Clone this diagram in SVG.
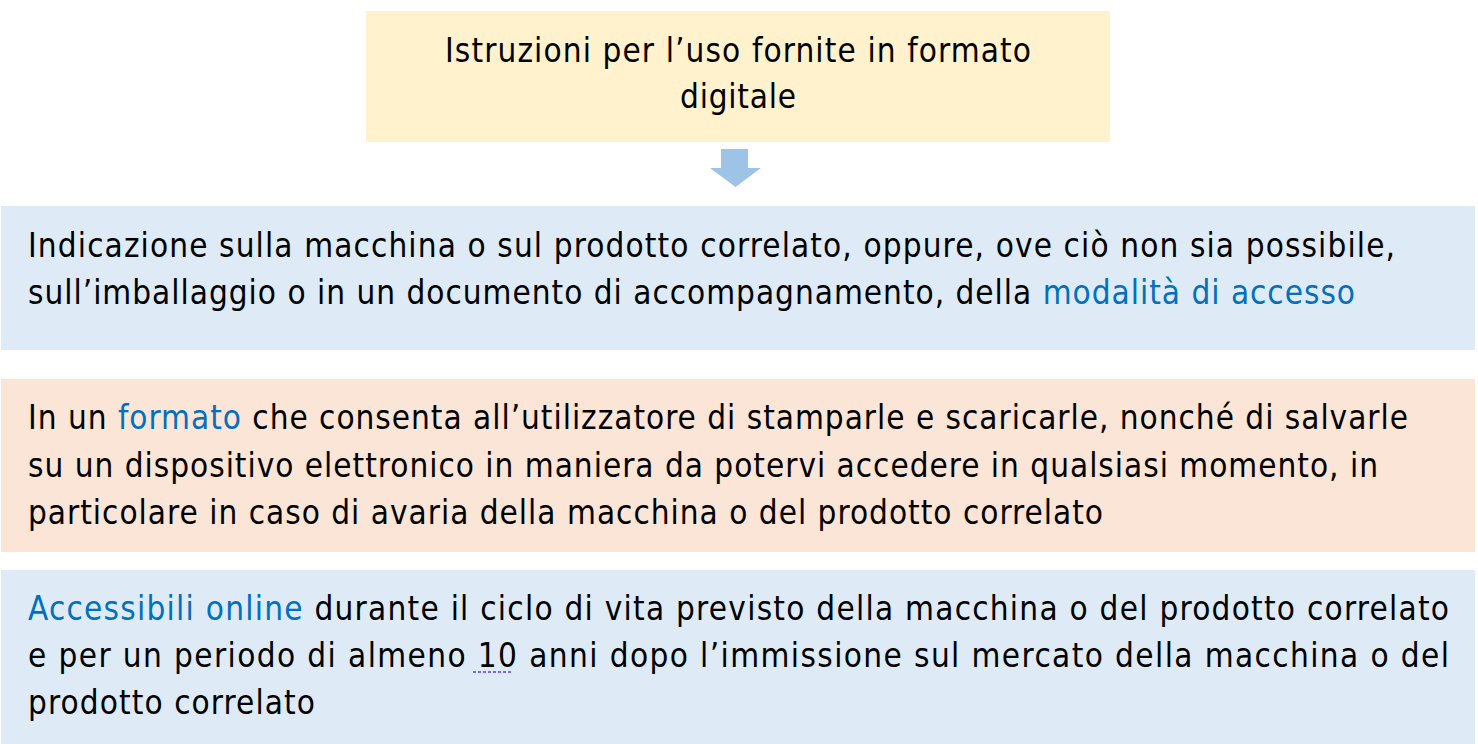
<svg xmlns="http://www.w3.org/2000/svg" width="1478" height="744" viewBox="0 0 1478 744">
<style>
.t{font-family:"DejaVu Sans Condensed","DejaVu Sans",sans-serif;font-size:33px;fill:#000}
.b{fill:#0070C0}
.c{text-anchor:middle}
</style>
<rect width="1478" height="744" fill="#fff"/>
<g id="node-title">
<rect x="366" y="11" width="744" height="131" fill="#FFF2CC"/>
<text class="t c" x="738" y="62" textLength="586" lengthAdjust="spacing">Istruzioni per l’uso fornite in formato</text>
<text class="t c" x="738" y="108" textLength="116" lengthAdjust="spacing">digitale</text>
</g>
<g id="connectors">
<path d="M721 149 H748 V168 H761 L735.5 187 L710 168 H721 Z" fill="#9DC3E6"/>
</g>
<g id="node-accesso">
<rect x="1" y="206" width="1474" height="144" fill="#DEEBF7"/>
<text class="t" x="28" y="257" textLength="1367" lengthAdjust="spacing">Indicazione sulla macchina o sul prodotto correlato, oppure, ove ciò non sia possibile,</text>
<text class="t" x="28" y="304" textLength="1327" lengthAdjust="spacing">sull’imballaggio o in un documento di accompagnamento, della <tspan class="b">modalità di accesso</tspan></text>
</g>
<g id="node-formato">
<rect x="1" y="379" width="1474" height="173" fill="#FBE5D6"/>
<text class="t" x="28" y="429" textLength="1380" lengthAdjust="spacing">In un <tspan class="b">formato</tspan> che consenta all’utilizzatore di stamparle e scaricarle, nonché di salvarle</text>
<text class="t" x="28" y="477" textLength="1350" lengthAdjust="spacing">su un dispositivo elettronico in maniera da potervi accedere in qualsiasi momento, in</text>
<text class="t" x="28" y="524" textLength="1075" lengthAdjust="spacing">particolare in caso di avaria della macchina o del prodotto correlato</text>
</g>
<g id="node-online">
<rect x="1" y="570" width="1474" height="174" fill="#DEEBF7"/>
<text class="t" x="28" y="620" textLength="1421" lengthAdjust="spacing"><tspan class="b">Accessibili online</tspan> durante il ciclo di vita previsto della macchina o del prodotto correlato</text>
<text class="t" x="28" y="667" textLength="1421" lengthAdjust="spacing">e per un periodo di almeno 10 anni dopo l’immissione sul mercato della macchina o del</text>
<line x1="473" y1="672" x2="511" y2="672" stroke="#7B68EE" stroke-width="2" stroke-dasharray="3 2"/>
<text class="t" x="28" y="714" textLength="287" lengthAdjust="spacing">prodotto correlato</text>
</g>
</svg>
